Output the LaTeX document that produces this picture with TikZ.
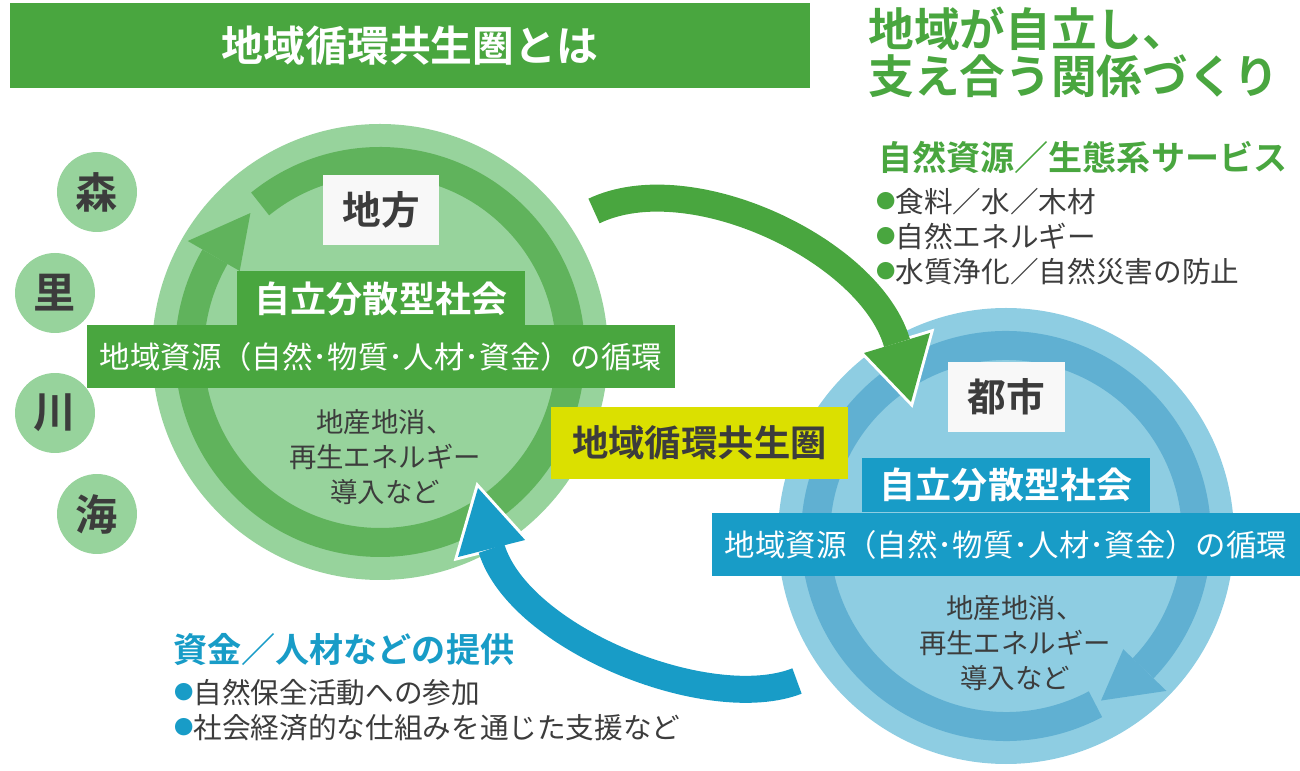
\documentclass[tikz,border=0pt]{standalone}
\usepackage{fontspec}
\setmainfont{Noto Sans CJK JP}[BoldFont={Noto Sans CJK JP Bold}]
\usetikzlibrary{calc}
\definecolor{ggreen}{RGB}{73,166,63}
\definecolor{glight}{RGB}{151,211,156}
\definecolor{gring}{RGB}{96,179,92}
\definecolor{bblue}{RGB}{24,156,199}
\definecolor{blight}{RGB}{142,205,226}
\definecolor{bring}{RGB}{96,176,210}
\definecolor{hubyellow}{RGB}{219,224,0}
\definecolor{ink}{RGB}{60,60,60}
\definecolor{paper}{RGB}{248,248,248}
\tikzstyle{titlebar} = [rectangle, fill=ggreen, text=white, font=\bfseries\fontsize{23.8}{27}\selectfont,
    minimum width=16cm, minimum height=1.7cm, inner sep=0pt]
\tikzstyle{motto} = [text=ggreen, align=left, inner sep=0pt, font=\bfseries\fontsize{26}{26.6}\selectfont]
\tikzstyle{topic} = [inner sep=0pt, font=\bfseries\fontsize{19.4}{22}\selectfont]
\tikzstyle{items} = [text=ink, align=left, inner sep=0pt, font=\fontsize{16.3}{19.8}\selectfont]
\tikzstyle{nature} = [circle, fill=glight, text=ink, font=\bfseries\fontsize{24}{24}\selectfont,
    minimum size=1.6cm, inner sep=0pt]
\tikzstyle{place} = [rectangle, fill=paper, text=ink, font=\bfseries\fontsize{22}{26}\selectfont,
    minimum width=2.34cm, minimum height=1.4cm, inner sep=0pt]
\tikzstyle{society} = [rectangle, text=white, font=\bfseries\fontsize{20.5}{24}\selectfont,
    minimum width=5.75cm, minimum height=1.1cm, inner sep=0pt]
\tikzstyle{cycle} = [rectangle, text=white, font=\fontsize{17.3}{20}\selectfont,
    minimum width=11.76cm, minimum height=1.26cm, inner sep=0pt]
\tikzstyle{note} = [text=ink, align=center, inner sep=0pt, font=\fontsize{15.6}{19.8}\selectfont]
\tikzstyle{hub} = [rectangle, fill=hubyellow, text=ink, font=\bfseries\fontsize{20.7}{24}\selectfont,
    minimum width=5.94cm, minimum height=1.44cm, inner sep=0pt]
\tikzstyle{ring} = [line width=0.58cm]
\tikzstyle{flow} = [line width=0.54cm]
\tikzstyle{flowhead} = [draw=white, line width=0.12cm, line join=miter]
\newcommand{\dotmark}[1]{\textcolor{#1}{\raisebox{2.3pt}{\fontsize{11}{11}\selectfont ●}}}
\newcommand{\cycletext}{地域資源（自然･物質･人材･資金）の循環}

\begin{document}
\begin{tikzpicture}[x=0.02cm, y=0.02cm]
	\useasboundingbox (0,0) rectangle (1300,770);

	\coordinate (gc) at (380,418);
	\coordinate (bc) at (1006,234);

	\fill [glight] (gc) circle [radius=228];
	\draw [ring, gring] ($(gc)+(129:190.5)$) arc [start angle=129, end angle=-210, radius=190.5];
	\fill [gring] ($(gc)+(-210:162)$) -- ($(gc)+(-227:190)$) -- ($(gc)+(-210:222)$) -- cycle;

	\fill [blight] (bc) circle [radius=228];
	\draw [ring, bring] ($(bc)+(-62:190.5)$) arc [start angle=-62, end angle=-404, radius=190.5];
	\fill [bring] ($(bc)+(-404:163)$) -- ($(bc)+(-420:190)$) -- ($(bc)+(-404:223)$) -- cycle;

	\node [titlebar] (title) at (410,724.5) {地域循環共生圏とは};
	\node [motto, anchor=west] (motto) at (868,718) {地域が自立し、\\支え合う関係づくり};

	\node [nature] (forest) at (97,578) {森};
	\node [nature] (village) at (55,477) {里};
	\node [nature] (river) at (55,357) {川};
	\node [nature] (sea) at (97,256) {海};

	\node [place] (rural) at (381,560) {地方};
	\node [society, fill=ggreen] (gsociety) at (381,471) {自立分散型社会};
	\node [cycle, fill=ggreen] (gcycle) at (381,413.5) {\cycletext};
	\node [note] (gnote) at (385,313) {地産地消、\\再生エネルギー\\導入など};

	\node [place] (urban) at (1006,373) {都市};
	\node [society, fill=bblue] (bsociety) at (1006,285) {自立分散型社会};
	\node [cycle, fill=bblue] (bcycle) at (1006,225.5) {\cycletext};
	\node [note] (bnote) at (1015,127) {地産地消、\\再生エネルギー\\導入など};

	\node [hub] (hub) at (699.5,327) {地域循環共生圏};

	\node [topic, text=ggreen, anchor=west] (service) at (878,613) {自然資源／生態系サービス};
	\node [items, anchor=west] (servicelist) at (876,533.5)
		{\dotmark{ggreen}食料／水／木材\\\dotmark{ggreen}自然エネルギー\\\dotmark{ggreen}水質浄化／自然災害の防止};

	\node [topic, text=bblue, anchor=west] (support) at (173,120) {資金／人材などの提供};
	\node [items, anchor=west] (supportlist) at (174,60)
		{\dotmark{bblue}自然保全活動への参加\\\dotmark{bblue}社会経済的な仕組みを通じた支援など};

	\coordinate (gstart) at (594,559);
	\coordinate (gend) at (897,427);
	\coordinate (gtip) at (911,368);
	\coordinate (gleft) at (864,417);
	\coordinate (gright) at (930,437);
	\path [flowhead, fill=ggreen] (gleft) -- (gtip) -- (gright) -- cycle;
	\draw [flow, ggreen] (gstart) .. controls (690,605) and (870,520) .. (gend);
	\fill [ggreen] (gleft) -- (gtip) -- (gright) -- cycle;

	\coordinate (bstart) at (797,89);
	\coordinate (bend) at (491.5,221.5);
	\coordinate (btip) at (478,282);
	\coordinate (bleft) at (458,213);
	\coordinate (bright) at (525,230);
	\path [flowhead, fill=bblue] (bleft) -- (btip) -- (bright) -- cycle;
	\draw [flow, bblue] (bstart) .. controls (710,55) and (520,130) .. (bend);
	\fill [bblue] (bleft) -- (btip) -- (bright) -- cycle;
\end{tikzpicture}
\end{document}
